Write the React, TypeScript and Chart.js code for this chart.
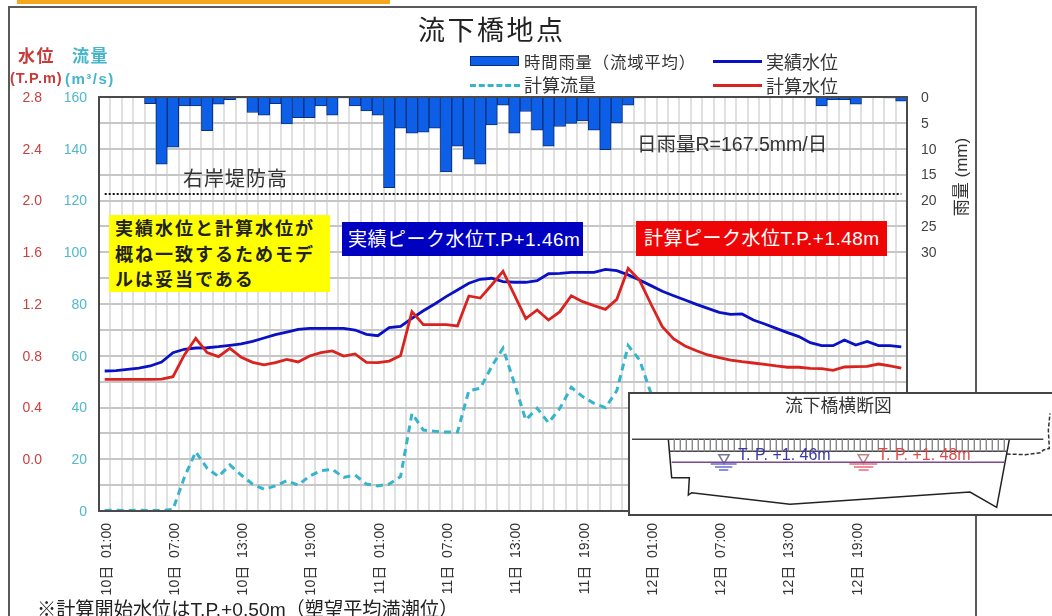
import React, { useEffect, useRef } from "react";
import { Chart, registerables } from "chart.js";

Chart.register(...registerables);

const categories = [
  "10日  01:00","10日  02:00","10日  03:00","10日  04:00","10日  05:00","10日  06:00","10日  07:00","10日  08:00","10日  09:00","10日  10:00","10日  11:00","10日  12:00",
  "10日  13:00","10日  14:00","10日  15:00","10日  16:00","10日  17:00","10日  18:00","10日  19:00","10日  20:00","10日  21:00","10日  22:00","10日  23:00","11日  00:00",
  "11日  01:00","11日  02:00","11日  03:00","11日  04:00","11日  05:00","11日  06:00","11日  07:00","11日  08:00","11日  09:00","11日  10:00","11日  11:00","11日  12:00",
  "11日  13:00","11日  14:00","11日  15:00","11日  16:00","11日  17:00","11日  18:00","11日  19:00","11日  20:00","11日  21:00","11日  22:00","11日  23:00","12日  00:00",
  "12日  01:00","12日  02:00","12日  03:00","12日  04:00","12日  05:00","12日  06:00","12日  07:00","12日  08:00","12日  09:00","12日  10:00","12日  11:00","12日  12:00",
  "12日  13:00","12日  14:00","12日  15:00","12日  16:00","12日  17:00","12日  18:00","12日  19:00","12日  20:00","12日  21:00","12日  22:00","12日  23:00",
];

const rainfall = [
  null,null,null,null,1.3,13,9.7,1.7,1.7,6.5,1.4,0.5,0.2,3,3.5,1.3,5.2,4,4,1.7,3.5,0.2,1.7,2.7,3.5,
  17.5,6,7,6.8,6,14.5,9.5,12,13,5.4,1.6,7,2.8,6.4,9.5,5.7,5.1,4.6,6.4,10.2,5,1.6,0.2,
  null,null,null,null,null,null,null,null,null,null,null,null,null,null,null,
  1.7,0.5,0.5,1.4,null,null,0.2,0.8,
];

const observedLevel = [
  0.682,0.685,0.695,0.705,0.721,0.752,0.824,0.85,0.86,0.862,0.87,0.881,0.891,0.911,0.937,0.963,0.983,1.004,1.012,1.012,1.012,1.012,0.999,0.965,0.955,
  1.017,1.027,1.089,1.148,1.2,1.257,1.308,1.36,1.391,1.399,1.373,1.368,1.368,1.38,1.434,1.437,1.445,1.445,1.445,1.468,1.458,1.425,
  1.385,1.342,1.298,1.264,1.231,1.197,1.166,1.135,1.12,1.123,1.076,1.045,1.012,0.979,0.948,0.901,0.878,0.878,0.922,0.883,0.911,0.878,0.878,0.868,
];

const computedLevel = [
  0.618,0.618,0.618,0.618,0.618,0.62,0.638,0.806,0.935,0.824,0.793,0.857,0.788,0.749,0.729,0.747,0.772,0.752,0.798,0.824,0.837,0.798,0.814,0.749,0.747,
  0.759,0.801,1.141,1.04,1.04,1.04,1.03,1.262,1.246,1.347,1.453,1.27,1.087,1.154,1.076,1.141,1.264,1.218,1.187,1.159,1.236,1.476,
  1.383,1.2,1.025,0.93,0.875,0.839,0.806,0.785,0.767,0.754,0.744,0.734,0.721,0.711,0.711,0.703,0.7,0.687,0.713,0.716,0.718,0.736,0.721,0.705,
];

const computedFlow = [
  0.2,0.3,0.2,0.3,0.2,0.2,0.6,13,22.9,16.5,13.3,17.8,13.9,10.4,8.4,9.7,11.7,10,13.5,15.6,16.1,13,13.9,10.4,9.7,
  10.4,13.3,37.7,31.3,30.8,30.5,30.5,46.5,47.4,55.8,62.9,49.3,35.2,39.7,34.1,39.7,47.8,44.2,41.6,39.9,46.5,63.9,
  58.4,45.5,33,25,20,17,14,12,11,10,9.5,9,8.5,8,8,7.5,7.5,7,8,8,8.5,9,8.5,8,
];

const leveeLevel = categories.map(() => 2.05);

const sectionBedX = [145,155,208,205,215,510,1050,1130,1168];
const sectionBedY = [178,293,293,345,338,373,336,382,178];
const sectionBankX = [1160,1215,1262,1270,1288,1285,1290];
const sectionBankY = [222,224,218,210,205,150,100];
const sectionHatchX = [163,181,199,217,235,253,271,289,307,325,343,361,379,397,415,433,451,469,487,505,523,541,559,577,595,613,631,649,667,685,703,721,739,757,775,793,811,829,847,865,883,901,919,937,955,973,991,1009,1027,1045,1063,1081,1099,1117,1135,1153];

const FONT = '"Liberation Sans","Noto Sans CJK JP",sans-serif';

const txt = (
  left: number, top: number, s: string, size: number, color: string,
  extra: React.CSSProperties = {}
) => (
  <div style={{ position: "absolute", left, top, fontSize: size, color, lineHeight: `${size + 2}px`, whiteSpace: "pre", fontFamily: FONT, ...extra }}>{s}</div>
);

const pairs = (xs: number[], ys: number[]) => xs.map((x, i) => ({ x, y: ys[i] }));

export default function App() {
  const mainRef = useRef<HTMLCanvasElement>(null);
  const insetRef = useRef<HTMLCanvasElement>(null);

  useEffect(() => {
    const frame = {
      id: "plotFrame",
      afterDatasetsDraw(c: any) {
        const { left, top, width, height } = c.chartArea;
        const g = c.ctx;
        g.save();
        g.strokeStyle = "#4a4a4a";
        g.lineWidth = 2;
        g.strokeRect(left, top, width, height);
        g.restore();
      },
    };

    const main = new Chart(mainRef.current!, {
      type: "bar",
      plugins: [frame],
      data: {
        labels: categories,
        datasets: [
          { type: "line", label: "計算水位", data: computedLevel, yAxisID: "level", borderColor: "#d9231f", borderWidth: 2.8, pointRadius: 0, tension: 0, order: 0 },
          { type: "line", label: "実績水位", data: observedLevel, yAxisID: "level", borderColor: "#0a10c4", borderWidth: 2.8, pointRadius: 0, tension: 0, order: 1 },
          { type: "line", label: "計算流量", data: computedFlow, yAxisID: "flow", borderColor: "#35b4cc", borderWidth: 3, borderDash: [7, 5], pointRadius: 0, tension: 0, order: 2 },
          { type: "line", label: "右岸堤防高", data: leveeLevel, yAxisID: "level", borderColor: "#111111", borderWidth: 2, borderDash: [2, 2], pointRadius: 0, tension: 0, order: 3 },
          { type: "bar", label: "時間雨量（流域平均）", data: rainfall, yAxisID: "rain", backgroundColor: "#0c5fe6", borderColor: "#0a2f7a", borderWidth: 1, barPercentage: 1, categoryPercentage: 1, order: 4 },
        ],
      } as any,
      options: {
        responsive: false,
        animation: false,
        devicePixelRatio: 1,
        layout: { padding: { left: 0, right: 85, top: 97, bottom: 0 } },
        plugins: { legend: { display: false }, title: { display: false }, tooltip: { enabled: false } },
        scales: {
          x: {
            type: "category",
            offset: true,
            grid: { color: "#e0e0e0", lineWidth: 2, offset: true, drawTicks: false },
            border: { display: false },
            afterFit: (s: any) => { s.height = 105; },
            ticks: {
              autoSkip: false,
              minRotation: 90,
              maxRotation: 90,
              padding: 12,
              labelOffset: 2,
              color: "#333333",
              font: { size: 14, family: FONT },
              callback(this: any, _v: any, i: number) { return i % 6 === 0 ? categories[i] : ""; },
            },
          },
          level: {
            position: "left",
            weight: 1,
            min: -0.4,
            max: 2.8,
            grid: { display: false, drawTicks: false },
            border: { display: false },
            afterFit: (s: any) => { s.width = 53; },
            ticks: {
              stepSize: 0.4,
              padding: 11,
              labelOffset: 1,
              color: "#cc3f3f",
              font: { size: 14, family: FONT },
              callback: (v: any) => (Number(v) < -0.1 ? "" : Math.abs(Number(v)).toFixed(1)),
            },
          },
          flow: {
            position: "left",
            weight: 0,
            min: 0,
            max: 160,
            grid: { display: false, drawTicks: false },
            border: { display: false },
            afterFit: (s: any) => { s.width = 46; },
            ticks: { stepSize: 20, padding: 12, labelOffset: 1, color: "#4fb9cd", font: { size: 14, family: FONT } },
          },
          rain: {
            position: "right",
            reverse: true,
            min: 0,
            max: 80,
            border: { display: false },
            grid: { color: "#c6c6c6", lineWidth: 2, drawTicks: false },
            afterFit: (s: any) => { s.width = 60; },
            ticks: {
              stepSize: 5,
              padding: 14,
              labelOffset: 1,
              autoSkip: false,
              color: "#444444",
              font: { size: 14, family: FONT },
              callback: (v: any) => (Number(v) <= 30 ? String(v) : ""),
            },
          },
        },
      } as any,
    });

    const hatch: any[] = [];
    sectionHatchX.forEach((x) => { hatch.push({ x, y: 178 }, { x, y: 214 }, { x: NaN, y: NaN }); });
    const line = (data: any[], color: string, w = 1.5, extra: any = {}) => ({
      type: "scatter", data, showLine: true, borderColor: color, borderWidth: w, pointRadius: 0, tension: 0, spanGaps: false, ...extra,
    });
    const inset = new Chart(insetRef.current!, {
      type: "scatter",
      data: {
        datasets: [
          line(hatch, "#8a8a8a", 1),
          line(pairs([36, 1270], [178, 178]), "#444444", 1.5),
          line(pairs([150, 1160], [214, 214]), "#444444", 1.5),
          line(pairs([155, 1155], [247, 247]), "#7a4a8a", 1.5),
          line(pairs(sectionBedX, sectionBedY), "#222222", 1.5),
          line(pairs(sectionBankX, sectionBankY), "#333333", 1.5, { borderDash: [4, 2] }),
          line(pairs([272, 350], [252, 252]), "#6a6ad0", 1.5),
          line(pairs([285, 337], [261, 261]), "#6a6ad0", 1.5),
          line(pairs([297, 325], [270, 270]), "#6a6ad0", 1.5),
          line(pairs([688, 772], [252, 252]), "#e86a7a", 1.5),
          line(pairs([702, 760], [261, 261]), "#e86a7a", 1.5),
          line(pairs([716, 746], [270, 270]), "#e86a7a", 1.5),
          { type: "scatter", data: [{ x: 312, y: 233 }], pointStyle: "triangle", rotation: 180, pointRadius: 6, backgroundColor: "#ffffff", borderColor: "#777799", borderWidth: 1.5 },
          { type: "scatter", data: [{ x: 730, y: 233 }], pointStyle: "triangle", rotation: 180, pointRadius: 6, backgroundColor: "#ffffff", borderColor: "#bb8888", borderWidth: 1.5 },
        ],
      } as any,
      options: {
        responsive: false,
        animation: false,
        devicePixelRatio: 1,
        layout: { autoPadding: false, padding: 0 },
        plugins: { legend: { display: false }, tooltip: { enabled: false } },
        scales: {
          x: { type: "linear", display: false, min: 24, max: 1296 },
          y: { type: "linear", display: false, min: 36, max: 402, reverse: true },
        },
      } as any,
    });

    return () => { main.destroy(); inset.destroy(); };
  }, []);

  return (
    <div style={{ position: "fixed", left: 0, top: 0, width: 1052, height: 616, overflow: "hidden", background: "#fff", fontFamily: FONT }}>
      <div style={{ position: "absolute", left: 17, top: 0, width: 373, height: 4, background: "#f5a81e" }} />
      <div style={{ position: "absolute", left: 8, top: 6, width: 965, height: 640, border: "2px solid #5a5a5a" }} />
      <canvas ref={mainRef} width={1052} height={616} style={{ position: "absolute", left: 0, top: 0 }} />

      {txt(418, 17, "流下橋地点", 27, "#222", { letterSpacing: 2.5 })}
      {txt(18, 47, "水位", 17, "#c93a3a", { fontWeight: 700, letterSpacing: 1.5 })}
      {txt(72, 47, "流量", 17, "#45b5cc", { fontWeight: 700, letterSpacing: 1.5 })}
      {txt(10, 70, "(T.P.m)", 14.5, "#c93a3a", { fontWeight: 700, letterSpacing: 1 })}
      {txt(65, 70, "(m³/s)", 15, "#45b5cc", { fontWeight: 700, letterSpacing: 1.5 })}

      <div style={{ position: "absolute", left: 470, top: 56, width: 47, height: 8, background: "#0c5fe6", border: "1px solid #0a2f7a" }} />
      {txt(524, 53, "時間雨量（流域平均）", 16.4, "#333", { letterSpacing: 0.8 })}
      <div style={{ position: "absolute", left: 470, top: 84, width: 50, borderTop: "3px dashed #35b4cc" }} />
      {txt(524, 76, "計算流量", 18, "#333")}
      <div style={{ position: "absolute", left: 713, top: 60, width: 49, height: 2.5, background: "#0a10c4" }} />
      {txt(766, 53, "実績水位", 18, "#333")}
      <div style={{ position: "absolute", left: 713, top: 84, width: 49, height: 2.5, background: "#d9231f" }} />
      {txt(766, 77, "計算水位", 18, "#333")}

      {txt(183, 168, "右岸堤防高", 20, "#333", { letterSpacing: 1 })}
      {txt(637, 134, "日雨量R=167.5mm/日", 19.5, "#333")}

      <div style={{ position: "absolute", left: 109, top: 215, width: 221, height: 77, background: "#ffff00", color: "#222", fontWeight: 700, fontSize: 18, lineHeight: "25.5px", padding: "2px 0 0 6px", boxSizing: "border-box", whiteSpace: "pre", letterSpacing: 2 }}>
        {"実績水位と計算水位が\n概ね一致するためモデ\nルは妥当である"}
      </div>
      <div style={{ position: "absolute", left: 342, top: 222, width: 241, height: 34, background: "#0000c0", color: "#fff", fontSize: 19, letterSpacing: 0.5, lineHeight: "35px", paddingLeft: 6, boxSizing: "border-box", whiteSpace: "pre" }}>
        実績ピーク水位T.P+1.46m
      </div>
      <div style={{ position: "absolute", left: 636, top: 221, width: 251, height: 35, background: "#ee0606", color: "#fff", fontSize: 19, letterSpacing: 0.5, lineHeight: "35px", paddingLeft: 8, boxSizing: "border-box", whiteSpace: "pre" }}>
        計算ピーク水位T.P.+1.48m
      </div>

      <div style={{ position: "absolute", left: 917, top: 167, width: 90, height: 20, textAlign: "center", transform: "rotate(-90deg)", fontSize: 17, lineHeight: "20px", color: "#333", whiteSpace: "pre", fontFamily: FONT }}>雨量 (mm)</div>

      {txt(37, 599, "※計算開始水位はT.P.+0.50m（塑望平均満潮位）", 19.2, "#222")}

      <div style={{ position: "absolute", left: 628, top: 392, width: 424, height: 122, background: "#fff" }}>
        <canvas ref={insetRef} width={424} height={122} style={{ position: "absolute", left: 0, top: 0 }} />
        <div style={{ position: "absolute", left: 0, top: 0, width: 426, height: 120, border: "2px solid #444" }} />
        {txt(157, 5, "流下橋横断図", 17.8, "#333")}
        {txt(110, 54, "T. P. +1. 46m", 16, "#3a3aa8")}
        {txt(250, 54, "T. P. +1. 48m", 16, "#e04a4a")}
      </div>
    </div>
  );
}
